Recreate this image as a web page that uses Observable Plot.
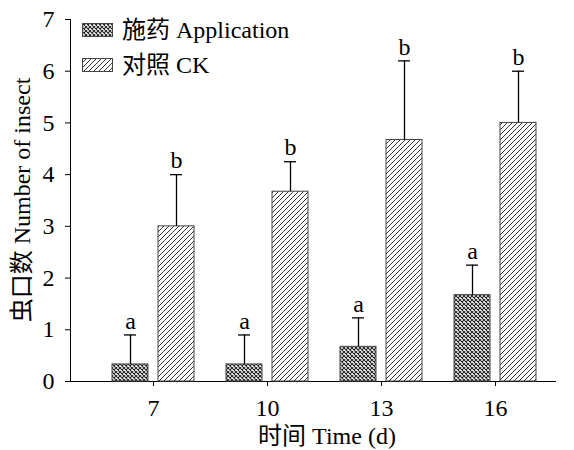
<!DOCTYPE html>
<html><head><meta charset="utf-8">
<script src="https://cdn.jsdelivr.net/npm/d3@7"></script>
<script src="https://cdn.jsdelivr.net/npm/@observablehq/plot@0.6"></script>
<style>
body{margin:0;background:#fff}
#wrap{position:relative;width:574px;height:450px;font-family:'Liberation Serif','Times New Roman','Noto Sans CJK SC',serif;color:#000}
.ttl{position:absolute;font-size:24px;white-space:nowrap;line-height:1}
.leg{position:absolute;left:82px;display:flex;align-items:center;font-size:24px;white-space:nowrap;line-height:1;height:24px}
.leg svg{margin-right:9px;display:block}
</style>
</head><body><div id="wrap"></div><script>
const categories = ["7", "10", "13", "16"];
const seriesNames = ["施药 Application", "对照 CK"];
const application = [0.33, 0.33, 0.67, 1.67];
const applicationErr = [0.57, 0.57, 0.56, 0.58];
const applicationLetters = ["a", "a", "a", "a"];
const ck = [3.0, 3.67, 4.67, 5.0];
const ckErr = [1.0, 0.58, 1.53, 1.0];
const ckLetters = ["b", "b", "b", "b"];
const yTicks = [0, 1, 2, 3, 4, 5, 6, 7];
const xTitle = "时间 Time (d)";
const yTitle = "虫口数 Number of insect";

const app = categories.map((c, i) => ({cat: c, value: application[i], err: applicationErr[i], letter: applicationLetters[i]}));
const ctl = categories.map((c, i) => ({cat: c, value: ck[i], err: ckErr[i], letter: ckLetters[i]}));
const errTop = d => d.value + d.err;

const font = "'Liberation Serif','Times New Roman','Noto Sans CJK SC',serif";
const plot = Plot.plot({
  width: 574, height: 450,
  marginTop: 19, marginBottom: 69, marginLeft: 70, marginRight: 19,
  style: {fontFamily: font, fontSize: "24px", color: "#000", background: "#fff"},
  x: {domain: categories, range: [96, 552], paddingInner: 0.2807, paddingOuter: 0.14035, label: null, tickSize: 5, tickPadding: 12, line: true},
  y: {domain: [0, 7], ticks: yTicks, tickFormat: "d", tickSize: 5, tickPadding: 11, line: true, label: null},
  marks: [
    Plot.barY(app, {x: "cat", y: "value", fill: "url(#xhatch)", stroke: "#444", strokeWidth: 1, insetRight: 46}),
    Plot.barY(ctl, {x: "cat", y: "value", fill: "url(#dhatch)", stroke: "#444", strokeWidth: 1, insetLeft: 46}),
    Plot.ruleX(app, {x: "cat", y1: "value", y2: errTop, dx: -23, stroke: "#000", strokeWidth: 1.3}),
    Plot.ruleX(ctl, {x: "cat", y1: "value", y2: errTop, dx: 23, stroke: "#000", strokeWidth: 1.3}),
    Plot.tickY(app, {x: "cat", y: errTop, dx: -23, insetLeft: 35, insetRight: 35, stroke: "#000", strokeWidth: 1.3}),
    Plot.tickY(ctl, {x: "cat", y: errTop, dx: 23, insetLeft: 35, insetRight: 35, stroke: "#000", strokeWidth: 1.3}),
    Plot.text(app, {x: "cat", y: errTop, text: "letter", dx: -23, dy: -14, fontSize: 24}),
    Plot.text(ctl, {x: "cat", y: errTop, text: "letter", dx: 23, dy: -14, fontSize: 24})
  ]
});

const defsHTML = `
<pattern id="xhatch" patternUnits="userSpaceOnUse" width="4" height="4">
  <rect width="4" height="4" fill="#fff"/>
  <path d="M0,0 L4,4 M4,0 L0,4" stroke="#222" stroke-width="1.1"/>
</pattern>
<pattern id="dhatch" patternUnits="userSpaceOnUse" width="5" height="5">
  <rect width="5" height="5" fill="#fff"/>
  <path d="M-1,1 L1,-1 M0,5 L5,0 M4,6 L6,4" stroke="#333" stroke-width="1"/>
</pattern>`;
const defs = document.createElementNS("http://www.w3.org/2000/svg", "defs");
defs.innerHTML = defsHTML;
plot.insertBefore(defs, plot.firstChild);

const wrap = document.getElementById("wrap");
wrap.appendChild(plot);

function swatch(id) {
  return `<svg width="31" height="14"><defs>${defsHTML.replace(/id="(\w+)"/g, 'id="$1_' + id + '"')}</defs><rect x="0.5" y="0.5" width="30" height="13" fill="url(#${id}_${id})" stroke="#444"/></svg>`;
}
const legIds = ["xhatch", "dhatch"];
const legTops = [18, 53];
seriesNames.forEach((name, i) => {
  const d = document.createElement("div");
  d.className = "leg";
  d.style.top = legTops[i] + "px";
  d.innerHTML = swatch(legIds[i]) + `<span>${name}</span>`;
  wrap.appendChild(d);
});

const xt = document.createElement("div");
xt.className = "ttl";
xt.textContent = xTitle;
xt.style.left = "327px"; xt.style.top = "436px";
xt.style.transform = "translate(-50%,-50%)";
wrap.appendChild(xt);

const yt = document.createElement("div");
yt.className = "ttl";
yt.textContent = yTitle;
yt.style.left = "22px"; yt.style.top = "200px";
yt.style.transform = "translate(-50%,-50%) rotate(-90deg)";
wrap.appendChild(yt);
</script></body></html>
